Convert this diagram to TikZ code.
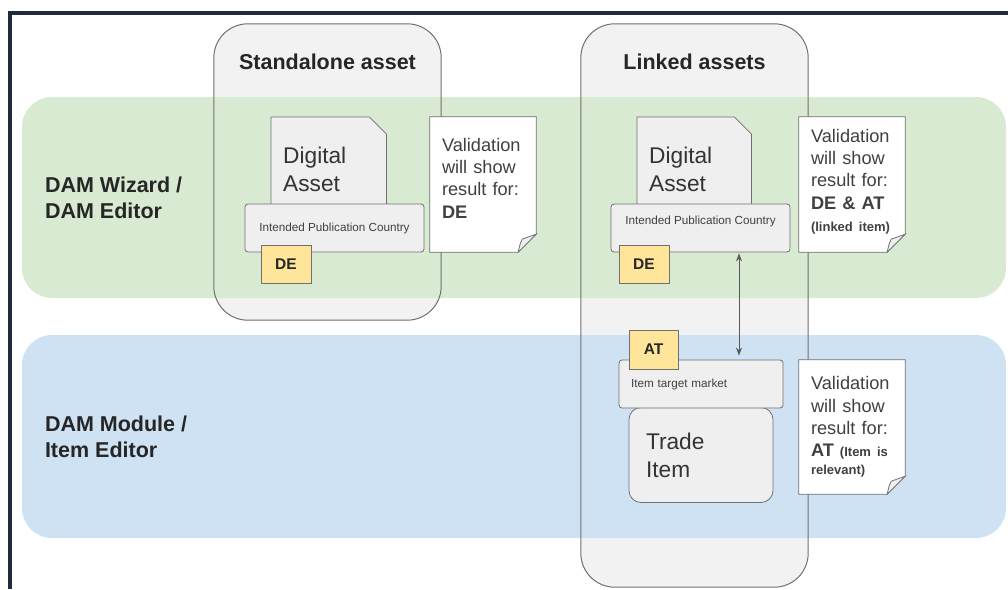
\documentclass[tikz,border=0pt]{standalone}
\usepackage{fontspec}
\setmainfont{Liberation Sans}
\usepackage{xcolor}
\usetikzlibrary{positioning, arrows.meta}

\definecolor{wizgreen}{HTML}{D9EAD3}
\definecolor{modblue}{HTML}{CFE2F3}
\definecolor{tagyellow}{HTML}{FFE599}
\definecolor{boxgray}{HTML}{EFEFEF}
\definecolor{edgegray}{HTML}{707070}
\definecolor{framenavy}{HTML}{202B3A}

\pgfdeclarelayer{lanes}
\pgfdeclarelayer{outlines}
\pgfsetlayers{lanes,outlines,main}

\newcommand{\smallb}{\fontsize{13}{16}\selectfont\bfseries}
% outline of a document sheet with a cut corner
\newcommand{\drawdoc}[1]{%
  \begin{pgfonlayer}{outlines}
    \draw[sheet] (#1.south west) -- (#1.north west) -- ([xshift=-17pt]#1.north east)
      -- ([yshift=-17pt]#1.north east) -- (#1.south east) -- cycle;
  \end{pgfonlayer}}
% outline of a note with a folded corner
\newcommand{\drawnote}[1]{%
  \begin{pgfonlayer}{outlines}
    \draw[sheet, fill=white] (#1.north west) -- (#1.north east) -- ([yshift=18pt]#1.south east)
      -- ([xshift=-18pt]#1.south east) -- (#1.south west) -- cycle;
    \draw[sheet] ([xshift=-18pt]#1.south east) .. controls ([xshift=-16pt,yshift=9pt]#1.south east)
      .. ([xshift=-14pt,yshift=13pt]#1.south east) -- ([yshift=18pt]#1.south east) -- cycle;
  \end{pgfonlayer}}

\begin{document}
\begin{tikzpicture}[
  x=1pt, y=-1pt,
  lane/.style={rectangle, rounded corners=30pt, minimum width=984pt, inner sep=0pt},
  lanelbl/.style={anchor=west, align=left, inner sep=0pt,
                  font=\fontsize{21.5}{25.7}\selectfont\bfseries, text=black!85},
  group/.style={rectangle, fill=black!5, rounded corners=34pt, minimum width=227pt, inner sep=0pt},
  grouprim/.style={draw=edgegray, line width=1pt, rounded corners=34pt},
  ttl/.style={anchor=base, font=\fontsize{21.5}{26}\selectfont\bfseries, text=black!85},
  sheet/.style={draw=edgegray, fill=boxgray, line width=0.8pt},
  doc/.style={rectangle, anchor=north west, inner xsep=12pt, inner ysep=0pt, text width=91pt,
              minimum height=104pt, align=left, font=\fontsize{22.7}{28}\selectfont, text=black!80},
  pub/.style={rectangle, draw=edgegray, fill=boxgray, line width=0.8pt, rounded corners=3pt,
              minimum width=179pt, minimum height=48pt, font=\fontsize{11.7}{14}\selectfont, text=black!75},
  tag/.style={rectangle, draw=edgegray, fill=tagyellow, line width=0.8pt, minimum width=50pt,
              minimum height=38pt, font=\fontsize{15.5}{18}\selectfont\bfseries, text=black!85},
  note/.style={rectangle, inner xsep=12pt, inner ysep=0pt, text width=82pt, minimum height=135pt,
               align=left, font=\fontsize{18.2}{22.4}\selectfont, text=black!75},
  market/.style={rectangle, draw=edgegray, fill=boxgray, line width=0.8pt, rounded corners=3pt,
                 minimum height=48pt, inner xsep=12pt, text width=140pt, align=left,
                 font=\fontsize{11.7}{14}\selectfont, text=black!75},
  trade/.style={rectangle, draw=edgegray, fill=boxgray, line width=0.8pt, rounded corners=12pt,
                minimum height=95pt, inner xsep=17pt, text width=110pt, align=left,
                font=\fontsize{22.7}{28}\selectfont, text=black!80},
  link/.style={<->, >={Stealth[length=8pt,width=6pt]}, draw=black!65, line width=0.8pt}
]
\useasboundingbox (0,0) rectangle (1008,589);

%% ---- groups and lanes ----
\begin{pgfonlayer}{lanes}
  \node[group, minimum height=296pt] at (327.5,172)   (sa) {};
  \node[group, minimum height=563pt] at (694.5,305.5) (la) {};
  \node[lane, fill=wizgreen, minimum height=201pt] at (514,197.5) (wiz) {};
  \node[lane, fill=modblue,  minimum height=203pt] at (514,436.5) (mod) {};
  \draw[grouprim] (sa.south west) rectangle (sa.north east);
  \draw[grouprim] (la.south west) rectangle (la.north east);
\end{pgfonlayer}
\draw[framenavy, line width=4pt] (10,589) -- (10,13) -- (1008,13);

\node[lanelbl] at ([xshift=23pt]wiz.west) (wizlbl) {DAM Wizard /\\DAM Editor};
\node[lanelbl] at ([xshift=23pt]mod.west) (modlbl) {DAM Module /\\Item Editor};
\node[ttl] at ([yshift=-46pt]sa.north) (satitle) {Standalone asset};
\node[ttl] at ([yshift=-46pt]la.north) (latitle) {Linked assets};

%% ---- standalone asset ----
\node[doc] at (271,117) (da1) {Digital\\Asset};
\drawdoc{da1}
\node[pub] at (334.5,228) (pub1) {Intended Publication Country};
\node[tag] at (286,264) (de1) {DE};
\node[note, text depth=80pt] at (483,184.5) (v1) {Validation\\will show\\result for:\\\textbf{DE}};
\drawnote{v1}

%% ---- linked assets ----
\node[doc, text width=90pt] at (637,117) (da2) {Digital\\Asset};
\drawdoc{da2}
\node[pub, text depth=14.5pt] at (700.5,228) (pub2) {Intended Publication Country};
\node[tag] at (644,264) (de2) {DE};
\node[note, text depth=98pt] at (852,184.5) (v2)
  {Validation\\will show\\result for:\\\textbf{DE \& AT}\\{\smallb (linked item)}};
\drawnote{v2}

\node[trade] at (701,455) (ti) {Trade\\Item};
\node[market] at (701,384) (itm) {Item target market};
\node[tag, minimum width=49pt, minimum height=39pt] at (653.5,349.5) (at) {AT};
\node[note, minimum height=134pt] at (852,427) (v3)
  {Validation\\will show\\result for:\\\textbf{AT} {\smallb (Item is}\\[-4.5pt]{\smallb relevant)}};
\drawnote{v3}

%% ---- link ----
\draw[link, shorten <=1pt, shorten >=4pt] ([xshift=38.5pt]pub2.south) -- ([xshift=38pt]itm.north);
\end{tikzpicture}
\end{document}
